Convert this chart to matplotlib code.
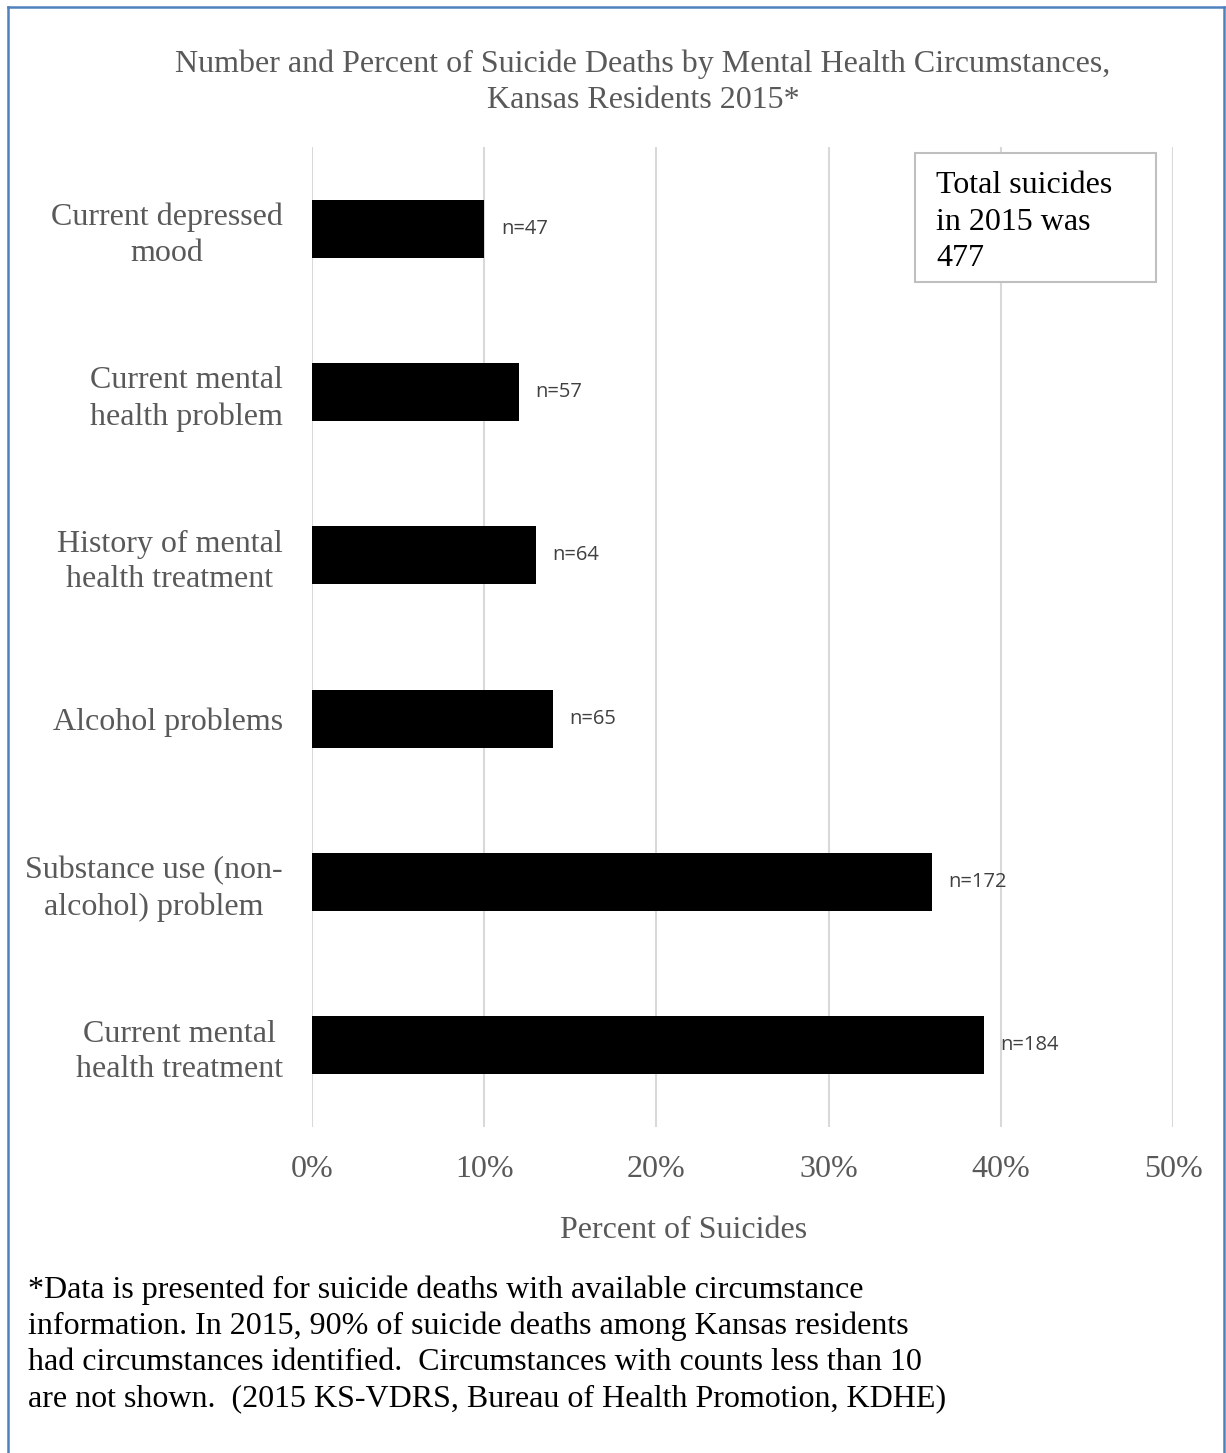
import numpy as np
import matplotlib.pyplot as plt
from matplotlib.lines import Line2D

# Dane z wykresu (od gory do dolu)
kategorie = ["Current depressed\nmood",
             "Current mental\nhealth problem",
             "History of mental\nhealth treatment",
             "Alcohol problems",
             "Substance use (non-\nalcohol) problem",
             "Current mental\nhealth treatment"]
procent = [10.0, 12.0, 13.0, 14.0, 36.0, 39.0]
liczba = [47, 57, 64, 65, 172, 184]
ticki = [0, 10, 20, 30, 40, 50]

SZARY = "#595959"
SERIF = ["Liberation Serif", "DejaVu Serif"]

W, H = 1226, 1453
fig = plt.figure(figsize=(W / 100, H / 100), dpi=100)
fig.patch.set_facecolor("white")

# Ramka (niebieska) wokol calosci
for xs, ys in [([8, 8], [7, H + 5]), ([8, 1224], [7, 7]), ([1224, 1224], [7, H + 5])]:
    fig.add_artist(Line2D([x / W for x in xs], [1 - y / H for y in ys],
                          color="#4F81BD", lw=1.8, transform=fig.transFigure))

ax = fig.add_axes([312 / W, 1 - 1127 / H, 861 / W, 980 / H])

y = np.arange(len(kategorie))
ax.barh(y, procent, height=0.355, color="black", zorder=3)
ax.set_ylim(len(kategorie) - 0.5, -0.5)
ax.set_xlim(0, 50)

for yi, p, n in zip(y, procent, liczba):
    ax.annotate("n=%d" % n, (p, yi), xytext=(12, 0), textcoords="offset points",
                va="center", ha="left", fontsize=14.5, color="#404040",
                family=["Open Sans", "DejaVu Sans"])

ax.set_xticks(ticki)
ax.set_xticklabels(["%d%%" % t for t in ticki], family=SERIF, fontsize=23, color=SZARY)
ax.set_yticks(y)
ax.set_yticklabels(kategorie, family=SERIF, fontsize=23, color=SZARY,
                   multialignment="center", linespacing=1.3)
ax.tick_params(axis="x", length=0, pad=20)
ax.tick_params(axis="y", length=0, pad=21)
for s in ax.spines.values():
    s.set_visible(False)
ax.grid(axis="x", color="#D9D9D9", lw=1.5, zorder=0)
ax.set_xlabel("Percent of Suicides", family=SERIF, fontsize=23, color=SZARY)
ax.xaxis.set_label_coords((684 - 312) / 861, -(1231 - 1127) / 980)
ax.xaxis.label.set_va("center")

# Tytul
fig.text(643 / W, 1 - 82 / H,
         "Number and Percent of Suicide Deaths by Mental Health Circumstances,\nKansas Residents 2015*",
         ha="center", va="center", family=SERIF, fontsize=23, color=SZARY, linespacing=1.32)

# Pole tekstowe
fig.add_artist(plt.Rectangle((915 / W, 1 - 282 / H), 241 / W, 129 / H,
                             transform=fig.transFigure, fc="white", ec="#BFBFBF", lw=1.5,
                             zorder=0.5))
fig.text(936 / W, 1 - 222 / H, "Total suicides\nin 2015 was\n477",
         ha="left", va="center", family=SERIF, fontsize=23, color="black", linespacing=1.34)

# Przypis
fig.text(28 / W, 1 - 1344 / H,
         "*Data is presented for suicide deaths with available circumstance\n"
         "information. In 2015, 90% of suicide deaths among Kansas residents\n"
         "had circumstances identified.  Circumstances with counts less than 10\n"
         "are not shown.  (2015 KS-VDRS, Bureau of Health Promotion, KDHE)",
         ha="left", va="center", family=SERIF, fontsize=23, color="black", linespacing=1.31)

fig.savefig("out.png", dpi=100)
